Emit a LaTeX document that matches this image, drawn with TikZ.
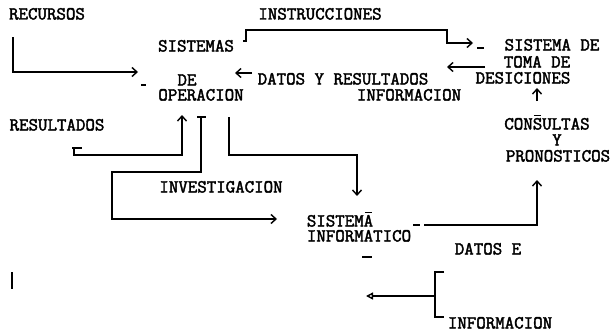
\documentclass[tikz,border=0pt]{standalone}
\usepackage{fontspec}
\setmonofont{Latin Modern Mono}[FakeBold=2.2]
\usetikzlibrary{arrows.meta}
\newcommand\barred[1]{\leavevmode\setbox0\hbox{#1}\rlap{\hbox to\wd0{\hss\rule[\dimexpr\ht0+2pt\relax]{0.75\wd0}{1.5pt}\hss}}#1}
\begin{document}
\begin{tikzpicture}[x=1pt,y=-1pt,line width=1.4pt,>={Straight Barb[length=5pt,width=9pt]}]
    \tikzstyle{word}=[font=\ttfamily\fontsize{18.4}{18}\selectfont,inner sep=0pt,text height=11pt,text depth=0pt]
    \tikzstyle{stray}=[line width=1.2pt]
    \useasboundingbox (0,0) rectangle (613,332);

    % left column
    \foreach \n/\x/\y/\t in {rec/47/14/RECURSOS,res/57/125/RESULTADOS}
    \node[word] (\n) at (\x,\y) {\t};

    % sistemas de operacion
    \foreach \n/\x/\y/\t in {sis/196/46/SISTEMAS,de/187/80/DE,ope/201/95/OPERACION}
    \node[word] (\n) at (\x,\y) {\t};

    % sistema de toma de desiciones
    \foreach \n/\x/\y/\t in {tom1/552/45/SISTEMA DE,tom2/537/62/TOMA DE,tom3/523/78/DESICIONES}
    \node[word] (\n) at (\x,\y) {\t};

    % consultas y pronosticos
    \foreach \n/\x/\y/\t in {con1/547/124/{CON\barred{S}ULTAS},con2/557/140/Y,con3/558/156/PRONOSTICOS}
    \node[word] (\n) at (\x,\y) {\t};

    % sistema informatico
    \foreach \n/\x/\y/\t in {si1/340/221/{SISTEM\barred{A}},si2/359/236/INFORMATICO}
    \node[word] (\n) at (\x,\y) {\t};

    % flow labels
    \node[word] (ins) at (320,14) {INSTRUCCIONES};
    \node[word] (dat) at (343,79) {DATOS Y RESULTADOS};
    \node[word] (inf) at (409,95) {INFORMACION};
    \node[word] (inv) at (221,187) {INVESTIGACION};
    \node[word] (dte) at (488,249) {DATOS E};
    \node[word] (ibo) at (500,323) {INFORMACION};

    % free ends of the connectors
    \coordinate (rec-a) at (13,37);
    \coordinate (rec-b) at (138,72);
    \coordinate (ins-a) at (243,41);
    \coordinate (ins-b) at (447,30);
    \coordinate (ins-c) at (473,43);
    \coordinate (tom-a) at (485,67);
    \coordinate (tom-b) at (447,67);
    \coordinate (dat-a) at (252,73);
    \coordinate (dat-b) at (235,73);
    \coordinate (con-a) at (537,101);
    \coordinate (con-b) at (537,88);
    \coordinate (res-a) at (74,148);
    \coordinate (res-b) at (182,115);
    \coordinate (inv-a) at (201,117);
    \coordinate (inv-b) at (112,172);
    \coordinate (inv-c) at (277,219);
    \coordinate (ope-a) at (229,117);
    \coordinate (ope-b) at (357,196);
    \coordinate (si-a) at (424,225);
    \coordinate (si-b) at (537,180);
    \coordinate (brk-t) at (444,272);
    \coordinate (brk-b) at (444,317);
    \coordinate (brk-m) at (435,296);
    \coordinate (brk-e) at (366,296);

    % connectors
    \draw[->] (rec-a) |- (rec-b);
    \draw[->] (ins-a) -- ++(3,0) |- (ins-b) |- (ins-c);
    \draw[->] (tom-a) -- (tom-b);
    \draw[->] (dat-a) -- (dat-b);
    \draw[->] (con-a) -- (con-b);
    \draw[->] (res-a) -- ++(0,7) -| (res-b);
    \draw (res-a) ++(-2,0) -- ++(10,0);
    \draw[->] (inv-a) |- (inv-b) |- (inv-c);
    \draw (inv-a) ++(-4,0) -- ++(9,0);
    \draw[->] (ope-a) -- ++(0,38) -| (ope-b);
    \draw[->] (si-a) -| (si-b);
    \draw (brk-t) -- ++(-9,0) |- (brk-b);
    \draw[-{Triangle[open,length=7pt,width=7pt]}] (brk-m) -- (brk-e);

    % loose marks
    \draw[stray] (141,85) -- (146,85);
    \draw[stray] (477,48) -- (484,48);
    \draw[stray] (413,225) -- (420,225);
    \draw[stray] (362,257) -- (372,257);
    \draw[stray] (12,272) -- (12,289);
\end{tikzpicture}
\end{document}
